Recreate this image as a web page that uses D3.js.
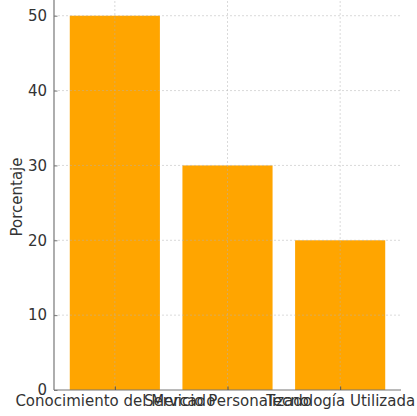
<!DOCTYPE html>
<html><head><meta charset="utf-8">
<script src="https://cdn.jsdelivr.net/npm/d3@7"></script>
<style>body{margin:0;background:#fff}svg{display:block}text{font-family:"DejaVu Sans",sans-serif}</style>
</head><body>
<svg id="c" width="417" height="416"></svg>
<script>
const categories = ["Conocimiento del Mercado", "Servicio Personalizado", "Tecnología Utilizada"];
const values = [50, 30, 20];
const yTicks = [0, 10, 20, 30, 40, 50];
const yLabel = "Porcentaje";

(function(){
const svg = d3.select("#c");
const mL = 54, mR = 401, mT = -3, mB = 390;
const x = d3.scaleLinear().domain([-0.54, 2.54]).range([mL, mR]);
const y = d3.scaleLinear().domain([0, 52.5]).range([mB, mT]);
const bw = 0.8;
const fs = 15;

// bars
svg.append("g").selectAll("rect").data(values).join("rect")
  .attr("x", (d,i) => x(i - bw/2))
  .attr("width", (d,i) => x(i + bw/2) - x(i - bw/2))
  .attr("y", d => y(d))
  .attr("height", d => y(0) - y(d))
  .attr("fill", "#FFA500");

// grid (over bars)
const grid = svg.append("g").attr("stroke", "#b0b0b0").attr("stroke-opacity", 0.6)
  .attr("stroke-width", 0.8).attr("stroke-dasharray", "2,2").attr("fill", "none");
grid.selectAll("line.h").data(yTicks.filter(t => t > 0)).join("line")
  .attr("x1", mL).attr("x2", mR).attr("y1", d => y(d)).attr("y2", d => y(d));
grid.selectAll("line.v").data(categories).join("line")
  .attr("x1", (d,i) => x(i)).attr("x2", (d,i) => x(i)).attr("y1", mT).attr("y2", mB);

// y axis
const yAxis = d3.axisLeft(y).tickValues(yTicks).tickSize(-3.5).tickPadding(7);
const ya = svg.append("g").attr("transform", `translate(${mL},0)`).call(yAxis);
ya.select(".domain").attr("stroke", "#777").attr("stroke-width", 1.2).attr("d", `M0,${mT}V${mB}`);
ya.selectAll(".tick line").attr("stroke", "#777");
ya.selectAll(".tick text").attr("font-size", fs).attr("fill", "#333");

// x axis
const xAxis = d3.axisBottom(x).tickValues([0,1,2]).tickFormat((d) => categories[d]).tickSize(-3.5).tickPadding(5.3);
const xa = svg.append("g").attr("transform", `translate(0,${mB})`).call(xAxis);
xa.select(".domain").attr("stroke", "#777").attr("stroke-width", 1.2).attr("d", `M${mL},0H${mR}`);
xa.selectAll(".tick line").attr("stroke", "#555");
xa.selectAll(".tick text").attr("font-size", fs).attr("fill", "#333");

// y label
svg.append("text").attr("transform", `translate(22,197) rotate(-90)`)
  .attr("text-anchor", "middle").attr("font-size", fs).attr("fill", "#333").text(yLabel);
})();
</script>
</body></html>
